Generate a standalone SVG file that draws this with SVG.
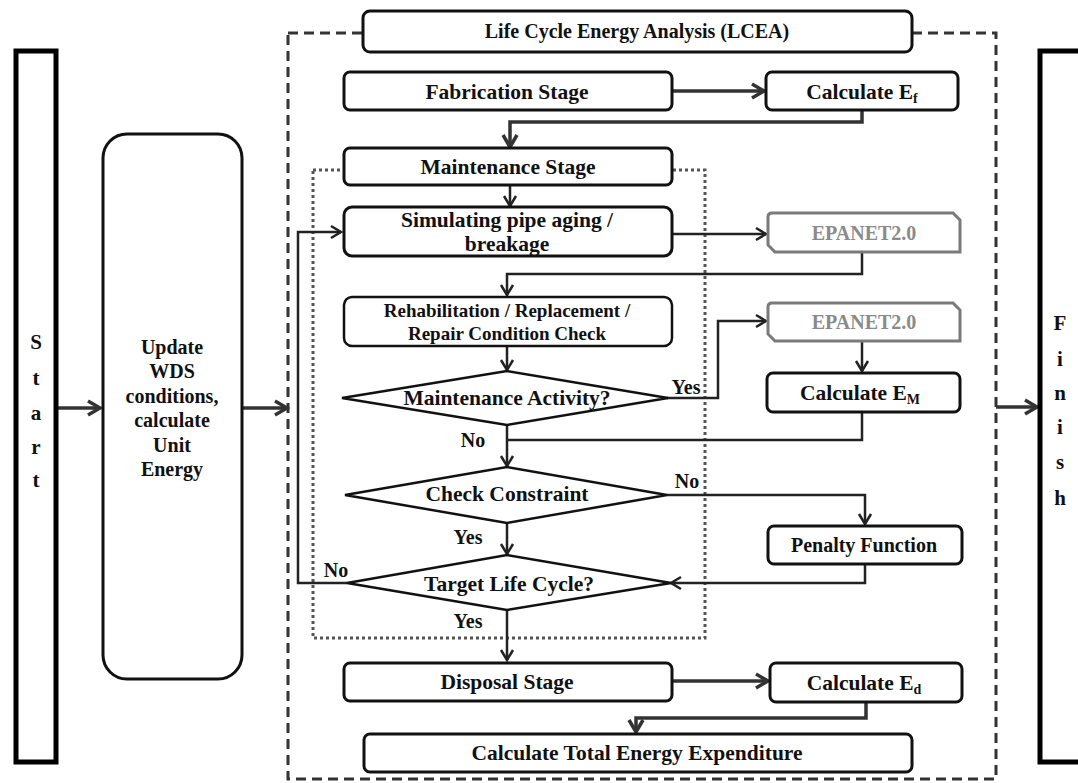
<svg xmlns="http://www.w3.org/2000/svg" width="1078" height="783" viewBox="0 0 1078 783">
<defs>
<style>
.t{font-family:"Liberation Serif","Times New Roman",serif;font-weight:bold;fill:#111;text-anchor:middle;font-size:21.5px}
.s{font-size:19px}
.u{font-size:20px}
.l{font-size:20px}
.g{fill:#8a8a8a;font-size:20px}
.big{font-size:21px}
.box{fill:#fff;stroke:#111;stroke-width:3}
.ep{fill:#fff;stroke:#7a7a7a;stroke-width:3}
.c{fill:none;stroke:#222;stroke-width:2.5}
.ct{fill:none;stroke:#333;stroke-width:3.5}
</style>
<marker id="a" markerUnits="userSpaceOnUse" markerWidth="16" markerHeight="16" refX="13" refY="8" orient="auto">
<path d="M3,2 L13,8 L3,14" fill="none" stroke="#222" stroke-width="2.5"/>
</marker>
<marker id="ab" markerUnits="userSpaceOnUse" markerWidth="18" markerHeight="18" refX="15" refY="9" orient="auto">
<path d="M3,2 L15,9 L3,16" fill="none" stroke="#333" stroke-width="3.5"/>
</marker>
</defs>
<rect width="1078" height="783" fill="#fff"/>

<g id="lcea-frame"><rect x="288" y="33" width="708" height="746" fill="none" stroke="#333" stroke-width="3" stroke-dasharray="10,6"/></g>
<g id="maintenance-frame"><rect x="313" y="170" width="392" height="468" fill="none" stroke="#555" stroke-width="3" stroke-dasharray="3,3"/></g>

<g id="connectors">
<path class="ct" d="M57,408 H100" marker-end="url(#ab)"/>
<path class="ct" d="M243,408 H287" marker-end="url(#ab)"/>
<path class="ct" d="M996,407 H1037" marker-end="url(#ab)"/>
<path class="ct" d="M672,91 H764" marker-end="url(#ab)"/>
<path class="ct" d="M862,110 V122 H510 V147" marker-end="url(#ab)"/>
<path class="c" d="M510,185 V206" marker-end="url(#a)"/>
<path class="c" d="M672,234 H766" marker-end="url(#a)"/>
<path class="c" d="M862,253 V274 H507 V295" marker-end="url(#a)"/>
<path class="c" d="M507,346 V370" marker-end="url(#a)"/>
<path class="c" d="M667,398 H718 V321 H766" marker-end="url(#a)"/>
<path class="c" d="M862,342 V371" marker-end="url(#a)"/>
<path class="c" d="M862,413 V440 H507"/>
<path class="c" d="M507,425 V466" marker-end="url(#a)"/>
<path class="c" d="M667,495 H865 V524" marker-end="url(#a)"/>
<path class="c" d="M865,565 V583 H671" marker-end="url(#a)"/>
<path class="c" d="M507,523 V554" marker-end="url(#a)"/>
<path class="c" d="M347,583 H298 V232 H341" marker-end="url(#a)"/>
<path class="c" d="M507,610 V660" marker-end="url(#a)"/>
<path class="ct" d="M672,681 H768" marker-end="url(#ab)"/>
<path class="ct" d="M866,702 V718 H636 V732" marker-end="url(#ab)"/>
</g>

<g id="start"><rect x="16" y="51" width="40" height="711" fill="#fff" stroke="#000" stroke-width="5"/>
<text class="t big" x="36" y="349">S</text>
<text class="t big" x="36" y="385">t</text>
<text class="t big" x="36" y="420">a</text>
<text class="t big" x="36" y="454">r</text>
<text class="t big" x="36" y="487">t</text></g>

<g id="update"><rect x="103" y="134" width="139" height="545" rx="24" class="box"/>
<text class="t u" x="172" y="354">Update</text>
<text class="t u" x="172" y="378">WDS</text>
<text class="t u" x="172" y="403">conditions,</text>
<text class="t u" x="172" y="427">calculate</text>
<text class="t u" x="172" y="452">Unit</text>
<text class="t u" x="172" y="476">Energy</text></g>

<g id="finish"><rect x="1040" y="51" width="45" height="711" fill="#fff" stroke="#000" stroke-width="5"/>
<text class="t big" x="1060" y="330">F</text>
<text class="t big" x="1060" y="366">i</text>
<text class="t big" x="1060" y="400">n</text>
<text class="t big" x="1060" y="434">i</text>
<text class="t big" x="1060" y="469">s</text>
<text class="t big" x="1060" y="505">h</text></g>

<g id="lcea-title"><rect x="363" y="11" width="549" height="41" rx="7" class="box"/>
<text class="t u" x="637" y="38">Life Cycle Energy Analysis (LCEA)</text></g>

<g id="fabrication"><rect x="344" y="72" width="328" height="38" rx="6" class="box"/>
<text class="t" x="507" y="99">Fabrication Stage</text></g>
<g id="calc-ef"><rect x="766" y="72" width="192" height="38" rx="6" class="box"/>
<text class="t" x="862" y="99">Calculate E<tspan dy="4" style="font-size:14px">f</tspan></text></g>

<g id="maintenance"><rect x="344" y="148" width="328" height="37" rx="6" class="box"/>
<text class="t" x="508" y="174">Maintenance Stage</text></g>

<g id="simulating"><rect x="344" y="207" width="328" height="49" rx="8" class="box"/>
<text class="t" x="507" y="227">Simulating pipe aging /</text>
<text class="t" x="507" y="251">breakage</text></g>

<g id="epanet1"><path class="ep" d="M772,213 H953 L960,220 V252 H775 L768,245 V217 Q768,213 772,213 Z"/>
<text class="t g" x="864" y="240">EPANET2.0</text></g>

<g id="rehab"><rect x="344" y="297" width="328" height="49" rx="8" class="box" style="stroke-width:2.5"/>
<text class="t s" x="507" y="317">Rehabilitation / Replacement /</text>
<text class="t s" x="507" y="340">Repair Condition Check</text></g>

<g id="epanet2"><path class="ep" d="M772,303 H953 L960,310 V341 H775 L768,334 V307 Q768,303 772,303 Z"/>
<text class="t g" x="864" y="329">EPANET2.0</text></g>

<g id="maint-activity"><polygon points="342,398 507,371 668,398 507,425" fill="#fff" stroke="#111" stroke-width="2.5"/>
<text class="t" x="507" y="405">Maintenance Activity?</text></g>

<g id="calc-em"><rect x="767" y="373" width="193" height="39" rx="6" class="box"/>
<text class="t" x="860" y="400">Calculate E<tspan dy="4" style="font-size:14px">M</tspan></text></g>

<g id="check-constraint"><polygon points="345,495 507,467 667,495 507,523" fill="#fff" stroke="#111" stroke-width="2.5"/>
<text class="t" x="507" y="501">Check Constraint</text></g>

<g id="penalty"><rect x="768" y="526" width="194" height="38" rx="6" class="box"/>
<text class="t u" x="864" y="552">Penalty Function</text></g>

<g id="target"><polygon points="347,583 507,555 671,583 507,610" fill="#fff" stroke="#111" stroke-width="2.5"/>
<text class="t" x="509" y="591">Target Life Cycle?</text></g>

<g id="disposal"><rect x="344" y="663" width="328" height="38" rx="6" class="box"/>
<text class="t" x="507" y="689">Disposal Stage</text></g>
<g id="calc-ed"><rect x="770" y="663" width="192" height="39" rx="6" class="box"/>
<text class="t" x="864" y="690">Calculate E<tspan dy="4" style="font-size:14px">d</tspan></text></g>

<g id="total"><rect x="364" y="734" width="548" height="38" rx="6" class="box"/>
<text class="t" x="637" y="760">Calculate Total Energy Expenditure</text></g>

<g id="labels">
<text class="t l" x="686" y="394">Yes</text>
<text class="t l" x="473" y="447">No</text>
<text class="t l" x="687" y="488">No</text>
<text class="t l" x="468" y="544">Yes</text>
<text class="t l" x="336" y="577">No</text>
<text class="t l" x="468" y="628">Yes</text>
</g>
</svg>
